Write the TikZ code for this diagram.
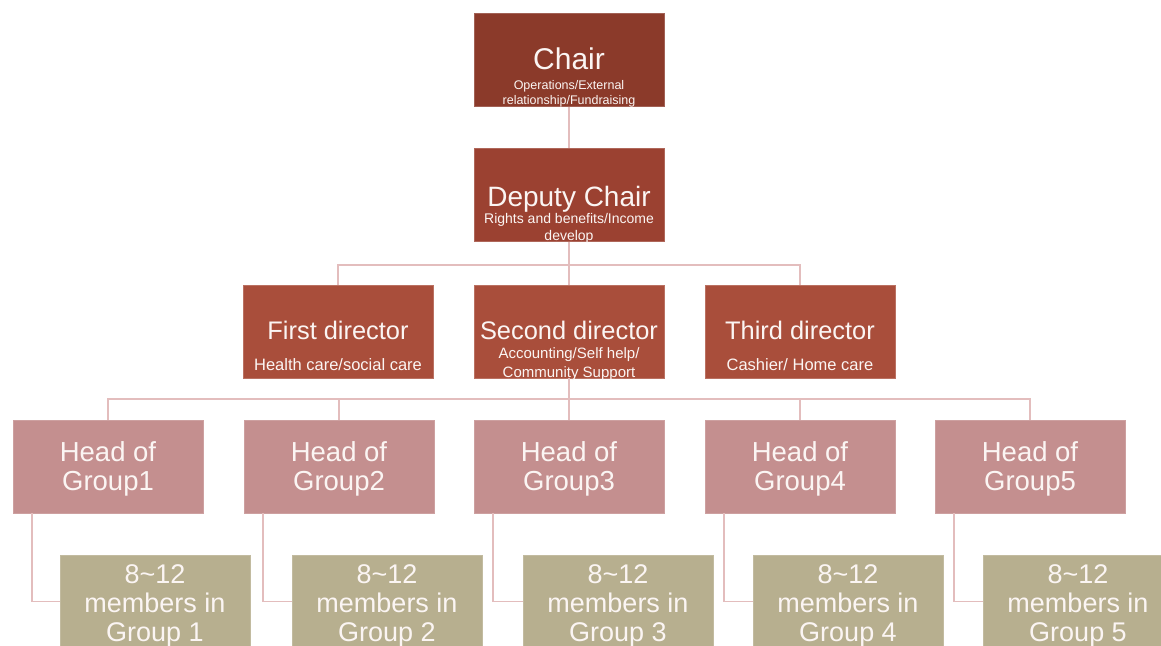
\documentclass[tikz,border=0pt]{standalone}
\usepackage{fontspec}
\setmainfont{Liberation Sans}
\definecolor{chairc}{HTML}{8B3A2A}
\definecolor{depc}{HTML}{9B4131}
\definecolor{dirc}{HTML}{A94E3B}
\definecolor{headc}{HTML}{C48F8F}
\definecolor{memc}{HTML}{B7AF8F}
\definecolor{linec}{HTML}{E3BDBD}
\definecolor{txtc}{HTML}{FBF5F3}
\begin{document}
\begin{tikzpicture}[x=1pt,y=-1pt,
  box/.style={rectangle,minimum width=190pt,minimum height=93pt,inner sep=0pt,line width=0.8pt},
  chairbox/.style={box,fill=chairc,draw=chairc!80!white},
  depbox/.style={box,fill=depc,draw=depc!80!white},
  dirbox/.style={box,fill=dirc,draw=dirc!80!white},
  headbox/.style={box,fill=headc,draw=headc!85!white},
  membox/.style={box,fill=memc,draw=memc!85!white},
  tx/.style={inner sep=0pt,text=txtc,anchor=base,font={\fontsize{#1}{#1}\selectfont},yshift=-0.36*#1pt},
  conn/.style={draw=linec,line width=1.8pt}
]
\useasboundingbox (0,0) rectangle (1161,645);
\clip (0,0) rectangle (1161,645);

% boxes
\node[chairbox] (chair) at (569,60) {};
\node[depbox] (dep) at (569,195) {};
\node[dirbox] (first) at (338,331.5) {};
\node[dirbox] (second) at (569,331.5) {};
\node[dirbox] (third) at (800,331.5) {};
\node[headbox] (head1) at (108,466.5) {};
\node[headbox] (head2) at (339,466.5) {};
\node[headbox] (head3) at (569,466.5) {};
\node[headbox] (head4) at (800,466.5) {};
\node[headbox] (head5) at (1030,466.5) {};
\node[membox] (mem1) at (155,601.5) {};
\node[membox] (mem2) at (387,601.5) {};
\node[membox] (mem3) at (618,601.5) {};
\node[membox] (mem4) at (848,601.5) {};
\node[membox] (mem5) at (1078,601.5) {};

% connectors
\coordinate (bus1) at (569,265);
\coordinate (bus2) at (569,399);
\draw[conn] (chair.south) -- (dep.north);
\draw[conn] (dep.south) -- (second.north);
\draw[conn] (first.north) |- (bus1) -| (third.north);
\draw[conn] (second.south) -- (head3.north);
\draw[conn] (head1.north) |- (bus2) -| (head5.north);
\draw[conn] (head2.north) -- (head2.north |- bus2);
\draw[conn] (head4.north) -- (head4.north |- bus2);
\foreach \i in {1,...,5}{
  \draw[conn] ([xshift=19pt]head\i.south west) |- (mem\i.west);
}

% texts
\node[tx=30] (chairT) at (569,59) {Chair};
\node[tx=12.5] (chairS1) at (569,85) {Operations/External};
\node[tx=12.5] (chairS2) at (569,100) {relationship/Fundraising};

\node[tx=28] (depT) at (569,196) {Deputy Chair};
\node[tx=14] (depS1) at (569,218) {Rights and benefits/Income};
\node[tx=14] (depS2) at (569,235) {develop};

\node[tx=25.4] (firstT) at (338,330) {First director};
\node[tx=16.5] (firstS) at (338,365) {Health care/social care};

\node[tx=25.4] (secondT) at (569,330) {Second director};
\node[tx=15] (secondS1) at (569,353) {Accounting/Self help/};
\node[tx=15] (secondS2) at (569,372) {Community Support};

\node[tx=25.4] (thirdT) at (800,330) {Third director};
\node[tx=16.5] (thirdS) at (800,365) {Cashier/ Home care};

\foreach \i/\x in {1/108,2/339,3/569,4/800,5/1030}{
  \node[tx=27.5] (headA\i) at (\x,452) {Head of};
  \node[tx=27.5] (headB\i) at (\x,481) {Group\i};
}
\foreach \i/\x in {1/155,2/387,3/618,4/848,5/1078}{
  \node[tx=27] (memA\i) at (\x,574) {8\textasciitilde12};
  \node[tx=27] (memB\i) at (\x,603) {members in};
  \node[tx=27] (memC\i) at (\x,632) {Group \i};
}
\end{tikzpicture}
\end{document}
